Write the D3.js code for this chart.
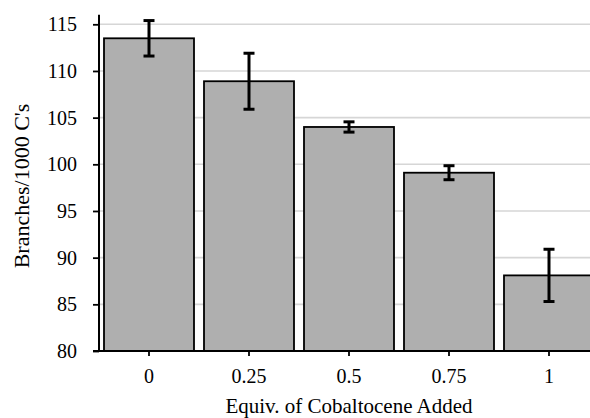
<!DOCTYPE html>
<html lang="en">
<head>
<meta charset="utf-8">
<title>Branches</title>
<script src="https://d3js.org/d3.v7.min.js"></script>
<style>
  body { margin: 0; background: #fff; }
  text { font-family: "Liberation Serif", "DejaVu Serif", serif; fill: #000; }
</style>
</head>
<body>
<div id="chart"></div>
<script>
// data
let categories = ["0", "0.25", "0.5", "0.75", "1"];
let values = [113.5, 108.9, 104.0, 99.1, 88.1];
let errors = [1.9, 3.0, 0.55, 0.75, 2.8];
let yTicks = [80, 85, 90, 95, 100, 105, 110, 115];

let width = 590, height = 418;
let margin = {top: 24.3, right: -9, bottom: 67, left: 99};
let inner_width = width - margin.left - margin.right;
let inner_height = height - margin.top - margin.bottom;
let tickFont = "20px";
let titleFont = "21px";

let svg = d3.select("#chart").append("svg")
    .attr("width", width)
    .attr("height", height);

let g = svg.append("g")
    .attr("transform", "translate(" + margin.left + "," + margin.top + ")");

let xScale = d3.scaleBand()
    .domain(categories)
    .range([0, inner_width])
    .paddingInner(0.1)
    .paddingOuter(0.05);

let yScale = d3.scaleLinear()
    .domain([80, 115])
    .range([inner_height, 0]);

// gridlines
g.selectAll(".grid")
    .data(yTicks.slice(1))
    .enter().append("line")
    .attr("class", "grid")
    .attr("x1", 0)
    .attr("x2", width - margin.left)
    .attr("y1", d => yScale(d))
    .attr("y2", d => yScale(d))
    .style("stroke", "#d6d6d6")
    .style("stroke-width", 1.6);

// bars
g.selectAll(".bar")
    .data(values)
    .enter().append("rect")
    .attr("class", "bar")
    .attr("x", (d, i) => xScale(categories[i]))
    .attr("y", d => yScale(d))
    .attr("width", xScale.bandwidth())
    .attr("height", d => yScale(80) - yScale(d))
    .style("fill", "#afafaf")
    .style("stroke", "#000")
    .style("stroke-width", 1.8);

// error bars
let cap = 5.5;
let eb = g.selectAll(".err")
    .data(values)
    .enter().append("g")
    .attr("class", "err")
    .attr("transform", (d, i) => "translate(" + (xScale(categories[i]) + xScale.bandwidth() / 2) + ",0)");
eb.append("line")
    .attr("y1", (d, i) => yScale(d + errors[i]))
    .attr("y2", (d, i) => yScale(d - errors[i]));
eb.append("line")
    .attr("x1", -cap).attr("x2", cap)
    .attr("y1", (d, i) => yScale(d + errors[i]))
    .attr("y2", (d, i) => yScale(d + errors[i]));
eb.append("line")
    .attr("x1", -cap).attr("x2", cap)
    .attr("y1", (d, i) => yScale(d - errors[i]))
    .attr("y2", (d, i) => yScale(d - errors[i]));
eb.selectAll("line")
    .style("stroke", "#000")
    .style("stroke-width", 3);

// y axis
let yAxis = d3.axisLeft(yScale)
    .tickValues(yTicks)
    .tickSize(6)
    .tickSizeOuter(0)
    .tickPadding(16);
let ya = g.append("g").call(yAxis);
ya.select(".domain").remove();
ya.attr("font-family", null).attr("font-size", null);
ya.selectAll(".tick line").style("stroke", "#000").style("stroke-width", 1.8);
ya.selectAll(".tick text").style("font-size", tickFont);
g.append("line")
    .attr("x1", 0).attr("x2", 0)
    .attr("y1", -9.5).attr("y2", inner_height)
    .style("stroke", "#000").style("stroke-width", 2);

// x axis
let xAxis = d3.axisBottom(xScale)
    .tickSize(5)
    .tickSizeOuter(0)
    .tickPadding(13);
let xa = g.append("g")
    .attr("transform", "translate(0," + inner_height + ")")
    .call(xAxis);
xa.select(".domain").remove();
xa.attr("font-family", null).attr("font-size", null);
xa.selectAll(".tick line").style("stroke", "#000").style("stroke-width", 1.8);
xa.selectAll(".tick text").style("font-size", tickFont);
g.append("line")
    .attr("x1", -6).attr("x2", width - margin.left)
    .attr("y1", inner_height).attr("y2", inner_height)
    .style("stroke", "#000").style("stroke-width", 2);

// axis titles
svg.append("text")
    .attr("x", margin.left + inner_width / 2)
    .attr("y", 413)
    .attr("text-anchor", "middle")
    .style("font-size", titleFont)
    .text("Equiv. of Cobaltocene Added");

svg.append("text")
    .attr("transform", "translate(29,186) rotate(-90)")
    .attr("text-anchor", "middle")
    .style("font-size", "22px")
    .text("Branches/1000 C's");
</script>
</body>
</html>
